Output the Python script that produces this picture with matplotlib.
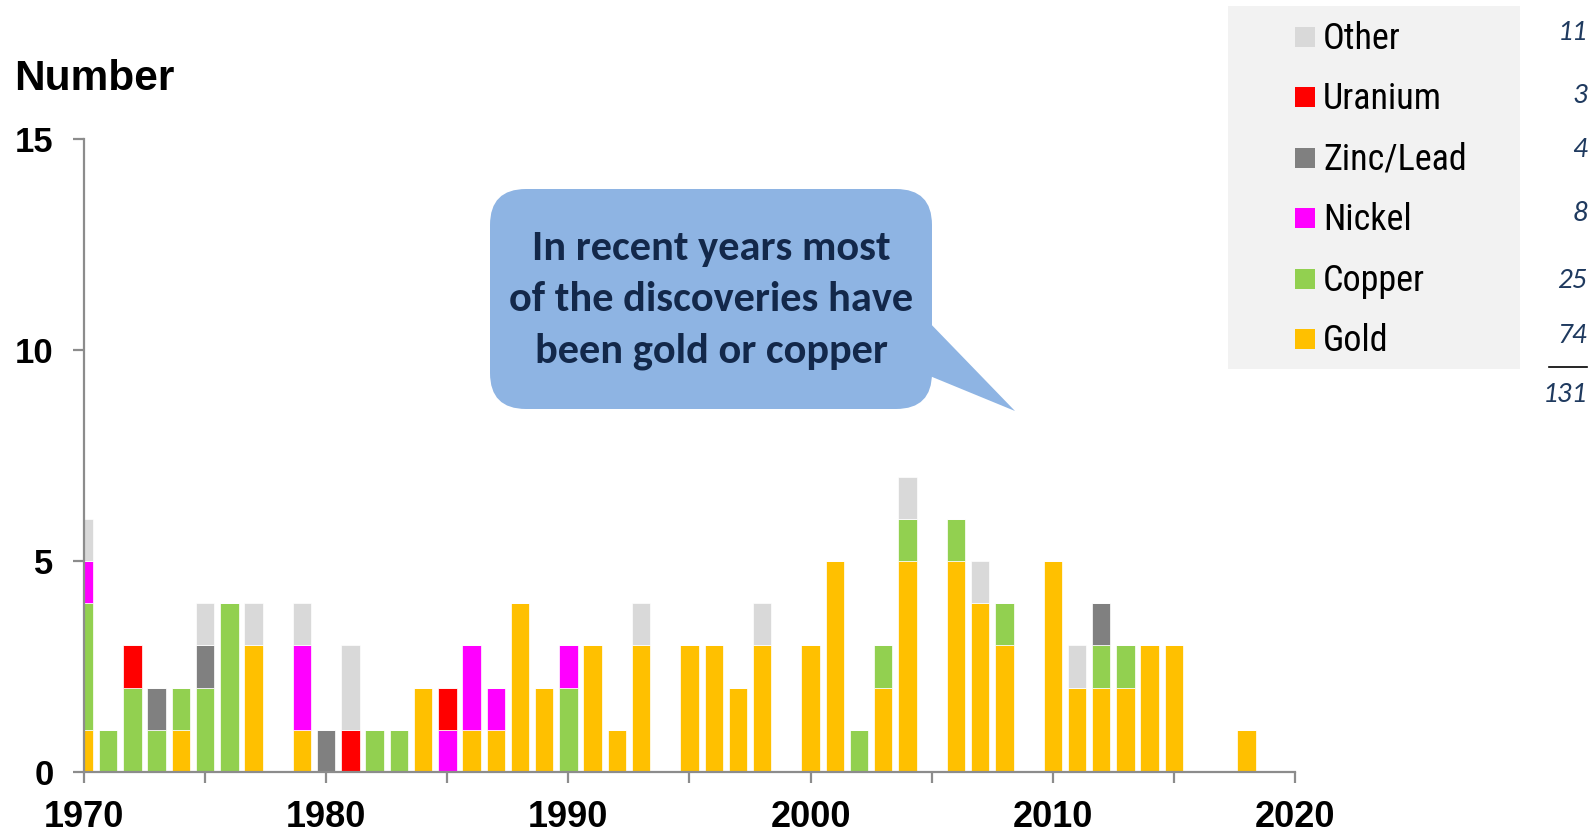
import numpy as np
import matplotlib
matplotlib.use("Agg")
import matplotlib.pyplot as plt
from matplotlib.patches import FancyBboxPatch, Polygon, Rectangle

# discoveries per year by commodity
years = np.arange(1970, 2019)
gold = {1970: 1, 1974: 1, 1977: 3, 1979: 1, 1984: 2, 1986: 1, 1987: 1, 1988: 4,
        1989: 2, 1991: 3, 1992: 1, 1993: 3, 1995: 3, 1996: 3, 1997: 2, 1998: 3,
        2000: 3, 2001: 5, 2003: 2, 2004: 5, 2006: 5, 2007: 4, 2008: 3, 2010: 5,
        2011: 2, 2012: 2, 2013: 2, 2014: 3, 2015: 3, 2018: 1}
copper = {1970: 3, 1971: 1, 1972: 2, 1973: 1, 1974: 1, 1975: 2, 1976: 4,
          1982: 1, 1983: 1, 1990: 2, 2002: 1, 2003: 1, 2004: 1, 2006: 1,
          2008: 1, 2012: 1, 2013: 1}
nickel = {1970: 1, 1979: 2, 1985: 1, 1986: 2, 1987: 1, 1990: 1}
zinc_lead = {1973: 1, 1975: 1, 1980: 1, 2012: 1}
uranium = {1972: 1, 1981: 1, 1985: 1}
other = {1970: 1, 1975: 1, 1977: 1, 1979: 1, 1981: 2, 1993: 1, 1998: 1,
         2004: 1, 2007: 1, 2011: 1}

series_names = ["Gold", "Copper", "Nickel", "Zinc/Lead", "Uranium", "Other"]
series_data = [gold, copper, nickel, zinc_lead, uranium, other]
series_colors = ["#FFC000", "#92D050", "#FF00FF", "#808080", "#FF0000", "#D9D9D9"]

# totals as printed next to the legend (top to bottom)
legend_totals = ["11", "3", "4", "8", "25", "74"]
grand_total = "131"

callout_lines = ["In recent years most", "of the discoveries have", "been gold or copper"]

W, H = 1595, 834
fig = plt.figure(figsize=(W / 100, H / 100), dpi=100)
ax = fig.add_axes([84 / W, 1 - 772 / H, (1295 - 84) / W, (772 - 139) / H])

axis_grey = "#8C8C8C"
bottom = np.zeros(len(years))
for name, d, c in zip(series_names, series_data, series_colors):
    vals = np.array([d.get(y, 0) for y in years], dtype=float)
    ax.bar(years, vals, width=0.76, bottom=bottom, color=c, label=name,
           edgecolor="white", linewidth=0.5, zorder=2)
    bottom += vals

ax.set_xlim(1970, 2020)
ax.set_ylim(0, 15)
ax.set_xticks(np.arange(1970, 2021, 5))
ax.set_xticklabels([str(y) if y % 10 == 0 else "" for y in range(1970, 2021, 5)])
ax.set_yticks([0, 5, 10, 15])
for s in ["top", "right"]:
    ax.spines[s].set_visible(False)
for s in ["left", "bottom"]:
    ax.spines[s].set_color(axis_grey)
    ax.spines[s].set_linewidth(1.6)
ax.tick_params(axis="both", colors=axis_grey, length=8, width=1.6)
ax.tick_params(axis="x", pad=12, labelsize=26, labelcolor="black")
ax.tick_params(axis="y", pad=14, labelsize=25, labelcolor="black")
for lab in ax.get_xticklabels() + ax.get_yticklabels():
    lab.set_fontweight("bold")
    lab.set_fontfamily("Liberation Sans")

# overlay in pixel coordinates for the annotations
ov = fig.add_axes([0, 0, 1, 1])
ov.set_xlim(0, W)
ov.set_ylim(H, 0)
ov.axis("off")

ov.text(14, 90, "Number", fontsize=30.5, fontweight="bold", family="Liberation Sans",
        va="baseline", ha="left")

# callout bubble
box_col = "#8EB4E3"
ov.add_patch(FancyBboxPatch((490, 189), 442, 220,
                            boxstyle="round,pad=0,rounding_size=36",
                            facecolor=box_col, edgecolor="none"))
ov.add_patch(Polygon([(925, 318), (1015, 411), (925, 374)], closed=True,
                     facecolor=box_col, edgecolor="none"))
for i, line in enumerate(callout_lines):
    ov.text(711, 260 + i * 51, line, ha="center", va="baseline", fontsize=30.5,
            fontweight="bold", family=["Carlito", "Lato"], color="#13284A")

# legend panel
ov.add_patch(Rectangle((1228, 6), 292, 363, facecolor="#F2F2F2", edgecolor="none"))
legend_order = list(zip(series_names, series_colors))[::-1]
for k, (name, c) in enumerate(legend_order):
    y0 = 27 + k * 60.4
    ov.add_patch(Rectangle((1295, y0), 20, 20, facecolor=c, edgecolor="none"))
    ov.text(1323, y0 + 22, name, fontsize=26, va="baseline", ha="left",
            family=["Roboto Condensed", "Liberation Sans"], color="black")

num_col = "#1F3A5F"
total_baselines = [40, 103, 157, 221, 288, 343]
for t, yb in zip(legend_totals, total_baselines):
    ov.text(1587, yb, t, fontsize=21, style="italic", family=["Carlito", "Lato"],
            color=num_col, ha="right", va="baseline")
ov.plot([1549, 1587], [367, 367], color="black", lw=1.2)
ov.text(1587, 402, grand_total, fontsize=21, style="italic", family=["Carlito", "Lato"],
        color=num_col, ha="right", va="baseline")

fig.savefig("out.png", dpi=100)
